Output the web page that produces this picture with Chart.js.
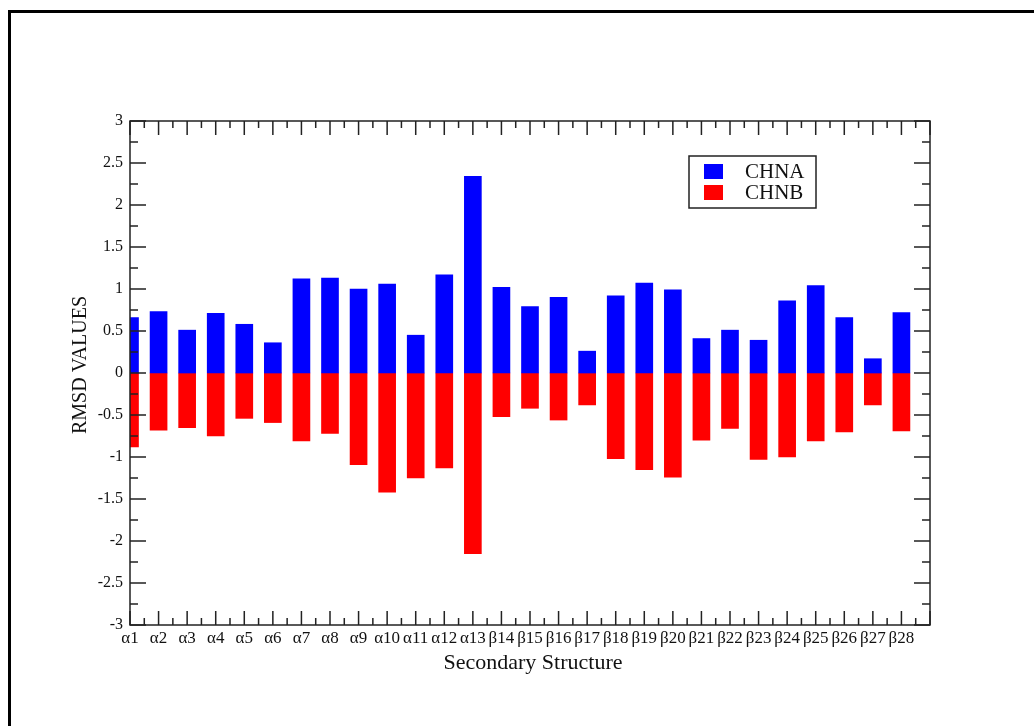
<!DOCTYPE html>
<html>
<head>
<meta charset="utf-8">
<script src="https://cdn.jsdelivr.net/npm/chart.js@4"></script>
<style>
  html, body { margin: 0; padding: 0; background: #fff; }
  #wrap { position: relative; width: 1034px; height: 726px; overflow: hidden; }
  #frame { position: absolute; left: 8px; top: 10px; width: 2000px; height: 2000px;
           border-left: 3px solid #000; border-top: 3px solid #000; }
  canvas { position: absolute; left: 0; top: 0; }
</style>
</head>
<body>
<div id="wrap">
  <div id="frame"></div>
  <canvas id="rmsdChart" width="1034" height="726"></canvas>
</div>
<script>
const categories = ['α1','α2','α3','α4','α5','α6','α7','α8','α9','α10','α11','α12','α13',
  'β14','β15','β16','β17','β18','β19','β20','β21','β22','β23','β24','β25','β26','β27','β28'];
const chnaValues = [0.66, 0.73, 0.51, 0.71, 0.58, 0.36, 1.12, 1.13, 1.0, 1.06, 0.45, 1.17, 2.34,
  1.02, 0.79, 0.90, 0.26, 0.92, 1.07, 0.99, 0.41, 0.51, 0.39, 0.86, 1.04, 0.66, 0.17, 0.72];
const chnbValues = [-0.88, -0.68, -0.65, -0.75, -0.54, -0.59, -0.81, -0.72, -1.09, -1.42, -1.25, -1.13, -2.15,
  -0.52, -0.42, -0.56, -0.38, -1.02, -1.15, -1.24, -0.80, -0.66, -1.03, -1.00, -0.81, -0.70, -0.38, -0.69];
const yTicks = [-3, -2.5, -2, -1.5, -1, -0.5, 0, 0.5, 1, 1.5, 2, 2.5, 3];

const serif = '"Liberation Serif", "Times New Roman", serif';

function toPoints(values) {
  return values.map((v, i) => ({ x: i + 1, y: v }));
}

// frame, inward ticks, axis titles and legend box
const decorations = {
  id: 'decorations',
  afterDraw(chart) {
    const ctx = chart.ctx;
    const a = chart.chartArea;
    const xs = chart.scales.x;
    const ys = chart.scales.y;
    ctx.save();
    ctx.strokeStyle = '#222';
    ctx.lineWidth = 1.5;
    ctx.strokeRect(a.left, a.top, a.right - a.left, a.bottom - a.top);

    ctx.beginPath();
    for (let k = 1; k <= categories.length + 1; k += 0.5) {
      const px = xs.getPixelForValue(k);
      const len = Number.isInteger(k) ? 14 : 7;
      ctx.moveTo(px, a.bottom); ctx.lineTo(px, a.bottom - len);
      ctx.moveTo(px, a.top); ctx.lineTo(px, a.top + len);
    }
    for (let v = -3; v <= 3.001; v += 0.25) {
      const py = ys.getPixelForValue(v);
      const len = Math.abs(v * 2 - Math.round(v * 2)) < 0.01 ? 16 : 8;
      ctx.moveTo(a.left, py); ctx.lineTo(a.left + len, py);
      ctx.moveTo(a.right, py); ctx.lineTo(a.right - len, py);
    }
    ctx.stroke();

    // axis titles
    ctx.fillStyle = '#111';
    ctx.textAlign = 'center';
    ctx.textBaseline = 'middle';
    ctx.font = '22px ' + serif;
    ctx.fillText('Secondary Structure', (a.left + a.right) / 2 + 3, 663);
    ctx.font = '20px ' + serif;
    ctx.save();
    ctx.translate(81, 365);
    ctx.rotate(-Math.PI / 2);
    ctx.fillText('RMSD VALUES', 0, 0);
    ctx.restore();

    // legend
    ctx.lineWidth = 1.5;
    ctx.strokeStyle = '#222';
    ctx.strokeRect(689, 156, 127, 52);
    chart.data.datasets.forEach((ds, i) => {
      const y = 164 + i * 21;
      ctx.fillStyle = ds.backgroundColor;
      ctx.fillRect(704, y, 19, 15);
      ctx.fillStyle = '#111';
      ctx.font = '21px ' + serif;
      ctx.textAlign = 'left';
      ctx.textBaseline = 'middle';
      ctx.fillText(ds.label, 745, y + 8);
    });
    ctx.restore();
  }
};

const ctx = document.getElementById('rmsdChart').getContext('2d');
new Chart(ctx, {
  type: 'bar',
  data: {
    datasets: [
      { label: 'CHNA', data: toPoints(chnaValues), backgroundColor: '#0000ff', barThickness: 17, grouped: false },
      { label: 'CHNB', data: toPoints(chnbValues), backgroundColor: '#ff0000', barThickness: 17, grouped: false }
    ]
  },
  options: {
    responsive: false,
    animation: false,
    layout: { padding: { top: 121, right: 104, left: 0, bottom: 0 } },
    plugins: { legend: { display: false }, tooltip: { enabled: false } },
    scales: {
      x: {
        type: 'linear',
        offset: false,
        min: 1,
        max: categories.length + 1,
        grid: { display: false, drawTicks: false },
        border: { display: false },
        afterFit(scale) { scale.height = 101; },
        ticks: {
          stepSize: 1,
          autoSkip: false,
          maxRotation: 0,
          padding: 3,
          color: '#111',
          font: { family: serif, size: 17 },
          callback: v => categories[v - 1] || ''
        }
      },
      y: {
        min: -3,
        max: 3,
        grid: { display: false, drawTicks: false },
        border: { display: false },
        afterFit(scale) { scale.width = 130; },
        afterBuildTicks(scale) { scale.ticks = yTicks.map(v => ({ value: v })); },
        ticks: {
          padding: 7,
          color: '#111',
          font: { family: serif, size: 16 },
          callback: v => String(v)
        }
      }
    }
  },
  plugins: [decorations]
});
</script>
</body>
</html>
